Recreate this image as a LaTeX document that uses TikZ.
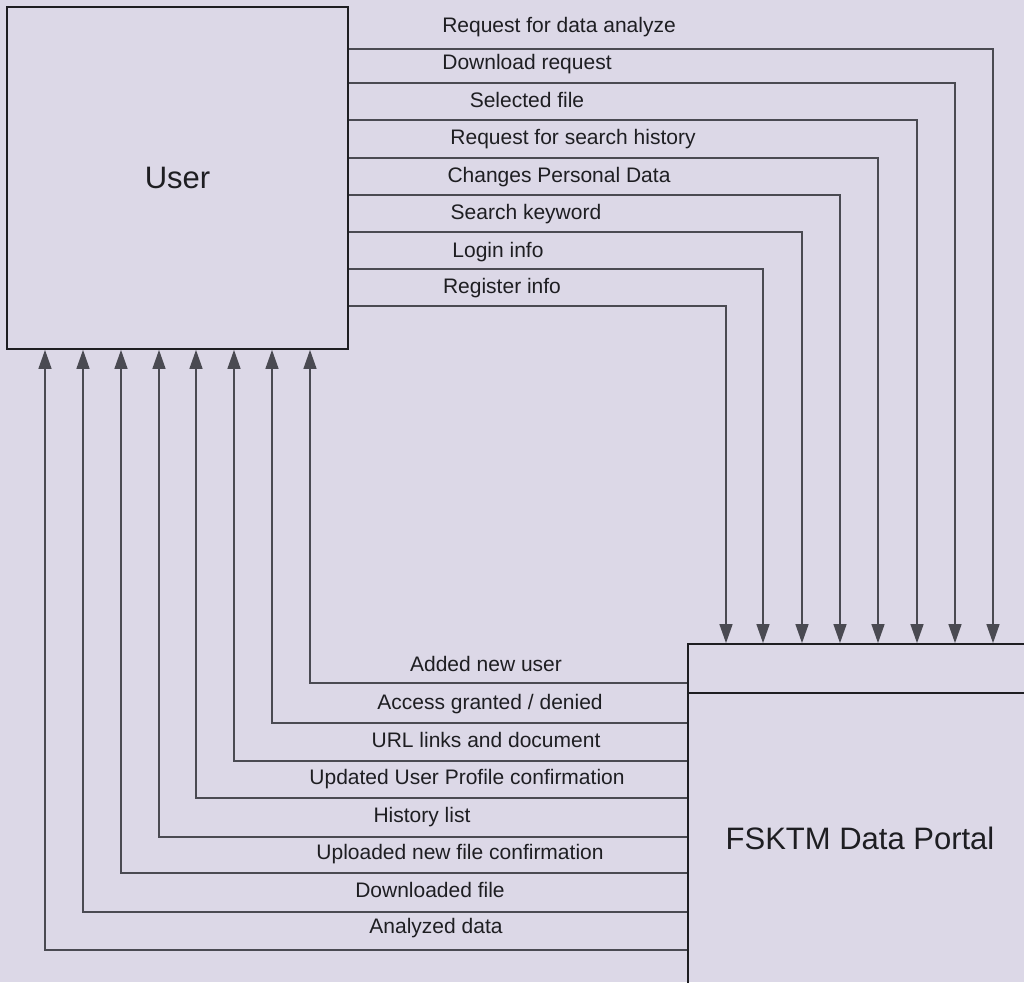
\documentclass[tikz,border=0pt]{standalone}
\usepackage{fontspec}
\setmainfont{Liberation Sans}
\usetikzlibrary{arrows.meta}
\definecolor{bg}{HTML}{DCD8E7}
\definecolor{ink}{HTML}{1E1E22}
\definecolor{wire}{HTML}{4A4A52}
\tikzset{
  box/.style={draw=ink, line width=1.8pt, rectangle, inner sep=0pt, font=\fontsize{31}{36}\selectfont, text=ink},
  flow/.style={draw=wire, line width=1.4pt, -{Triangle[length=19pt,width=13pt]}},
  lbl/.style={anchor=base, inner sep=0pt, font=\fontsize{21}{24}\selectfont, text=ink},
}
\begin{document}
\begin{tikzpicture}[x=1pt,y=-1pt]
\useasboundingbox (0,0) rectangle (1024,982);
\fill[bg] (0,0) rectangle (1024,982);
\clip (0,0) rectangle (1024,982);

\node[box, minimum width=341pt, minimum height=342pt] (user) at (177.5,178) {User};
\node[box, minimum width=344pt, minimum height=388pt] (portal) at (860,838) {FSKTM Data Portal};
\draw[draw=ink, line width=1.4pt] (portal.west |- 0,693) coordinate (dl) -- (portal.east |- 0,693) coordinate (dr);

% User -> Portal
\draw[flow] (user.east |- 0,49)  -| (portal.north -| 993,0);
\draw[flow] (user.east |- 0,83)  -| (portal.north -| 955,0);
\draw[flow] (user.east |- 0,120) -| (portal.north -| 917,0);
\draw[flow] (user.east |- 0,158) -| (portal.north -| 878,0);
\draw[flow] (user.east |- 0,195) -| (portal.north -| 840,0);
\draw[flow] (user.east |- 0,232) -| (portal.north -| 802,0);
\draw[flow] (user.east |- 0,269) -| (portal.north -| 763,0);
\draw[flow] (user.east |- 0,306) -| (portal.north -| 726,0);

\node[lbl] (t1) at (559,33)  {Request for data analyze};
\node[lbl] (t2) at (527,69)  {Download request};
\node[lbl] (t3) at (527,107) {Selected file};
\node[lbl] (t4) at (573,144) {Request for search history};
\node[lbl] (t5) at (559,182) {Changes Personal Data};
\node[lbl] (t6) at (526,219) {Search keyword};
\node[lbl] (t7) at (498,257) {Login info};
\node[lbl] (t8) at (502,293) {Register info};

% Portal -> User
\draw[flow] (portal.west |- 0,683) -| (user.south -| 310,0);
\draw[flow] (portal.west |- 0,723) -| (user.south -| 272,0);
\draw[flow] (portal.west |- 0,761) -| (user.south -| 234,0);
\draw[flow] (portal.west |- 0,798) -| (user.south -| 196,0);
\draw[flow] (portal.west |- 0,837) -| (user.south -| 159,0);
\draw[flow] (portal.west |- 0,873) -| (user.south -| 121,0);
\draw[flow] (portal.west |- 0,912) -| (user.south -| 83,0);
\draw[flow] (portal.west |- 0,950) -| (user.south -| 45,0);

\node[lbl] (b1) at (486,671) {Added new user};
\node[lbl] (b2) at (490,709) {Access granted / denied};
\node[lbl] (b3) at (486,747) {URL links and document};
\node[lbl] (b4) at (467,784) {Updated User Profile confirmation};
\node[lbl] (b5) at (422,822) {History list};
\node[lbl] (b6) at (460,859) {Uploaded new file confirmation};
\node[lbl] (b7) at (430,897) {Downloaded file};
\node[lbl] (b8) at (436,933) {Analyzed data};
\end{tikzpicture}
\end{document}
